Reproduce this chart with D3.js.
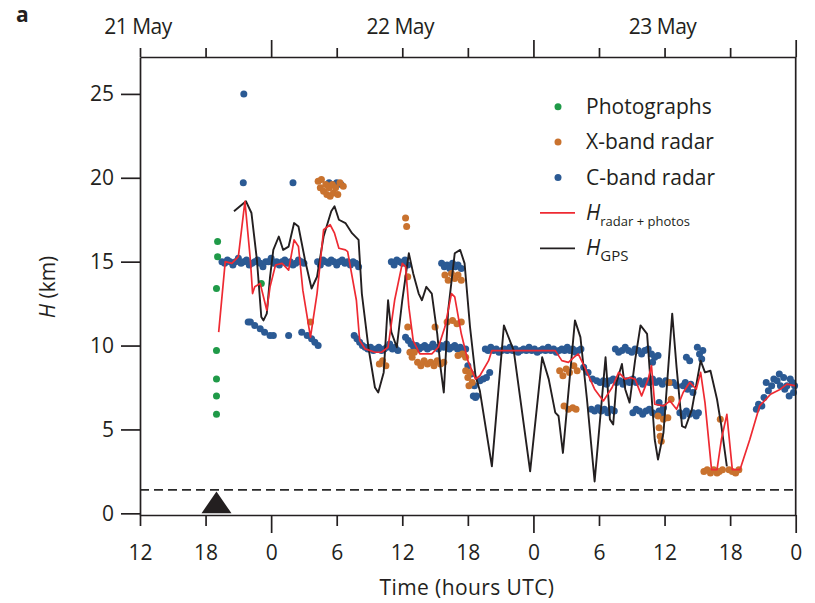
<!DOCTYPE html>
<html>
<head>
<meta charset="utf-8">
<script src="https://cdn.jsdelivr.net/npm/d3@7"></script>
<style>
body { margin: 0; background: #fff; }
text { font-family: "Open Sans", sans-serif; fill: #231f20; }
</style>
</head>
<body>
<svg id="chart" width="815" height="603"></svg>
<script>
// time is hours since 21 May 00:00 UTC, heights in km
var hourTicks = [12, 18, 24, 30, 36, 42, 48, 54, 60, 66, 72];
var dayLabels = [{t: 12, label: '21 May'}, {t: 36, label: '22 May'}, {t: 60, label: '23 May'}];
var heightTicks = [0, 5, 10, 15, 20, 25];
var eruptionTime = 19.0;
var ventHeight = 1.4;

var photographs = [
	[19.1, 16.2], [19.1, 15.3], [19.0, 13.4], [19.0, 9.7], [19.0, 8.0], [19.0, 7.0], [19.0, 5.9], [23.1, 13.7]
];

var xband = [
	[27.6, 11.4],
	[28.3, 19.8], [28.5, 19.4], [28.6, 19.9], [28.8, 19.2], [29.0, 19.6], [29.1, 19.0], [29.3, 19.4], [29.4, 18.9],
	[29.6, 19.6], [29.7, 19.1], [29.9, 19.4], [30.1, 19.0], [30.3, 19.7], [30.6, 19.5],
	[36.3, 17.6], [36.4, 17.1], [36.5, 14.1],
	[33.9, 8.9], [34.2, 9.1], [34.5, 8.8],
	[36.5, 11.1], [36.7, 9.6], [36.9, 9.3], [37.1, 9.6],
	[37.4, 9.0], [37.7, 8.8], [38.0, 9.1], [38.3, 8.9], [38.6, 9.0], [38.9, 8.8], [39.2, 9.1], [39.5, 8.9], [39.8, 9.0],
	[39.0, 11.1],
	[39.9, 14.2], [40.2, 13.9], [40.5, 14.3], [40.8, 14.0], [41.1, 14.2], [41.4, 13.9],
	[40.1, 11.4], [40.6, 11.5], [41.0, 11.3], [41.4, 11.4],
	[41.1, 9.4], [41.5, 9.5], [41.8, 9.3],
	[41.8, 8.5], [42.0, 8.1], [42.2, 8.4], [42.4, 7.8], [42.1, 7.6],
	[50.4, 8.5], [50.7, 8.2], [51.0, 8.6], [51.3, 8.4], [51.7, 8.8], [52.0, 8.5],
	[50.8, 6.4], [51.2, 6.2], [51.6, 6.3], [51.9, 6.2],
	[59.4, 5.8], [59.5, 5.1], [59.6, 4.6], [59.7, 4.3], [59.9, 5.6], [60.3, 5.7],
	[60.4, 7.8], [60.6, 6.8],
	[65.1, 5.6],
	[63.6, 2.5], [63.9, 2.6], [64.2, 2.4], [64.5, 2.6], [64.8, 2.4], [65.0, 2.5], [65.3, 2.6],
	[65.9, 2.6], [66.2, 2.5], [66.5, 2.4], [66.8, 2.6]
];

var cband = [
	[21.5, 25.0], [21.45, 19.7], [26.0, 19.7], [29.3, 19.7], [29.7, 19.6], [30.0, 19.7], [30.4, 19.6],
	// 15 km plateau
	[19.5, 15.0], [19.75, 14.9], [20.0, 15.1], [20.25, 15.0], [20.5, 14.8], [20.75, 15.0], [21.0, 15.2], [21.25, 14.9],
	[21.5, 15.0], [21.75, 15.1], [22.0, 14.8], [22.25, 14.9], [22.5, 15.0], [22.75, 15.1], [23.0, 14.9], [23.25, 14.7],
	[23.5, 15.0], [23.75, 15.0], [24.0, 15.2], [24.25, 14.9], [24.5, 15.0], [24.75, 14.8], [25.0, 15.0], [25.25, 15.1],
	[25.5, 14.9], [25.75, 15.0], [26.0, 14.8], [26.25, 14.9], [26.5, 15.1], [26.75, 15.0], [27.0, 14.9],
	[28.25, 15.0], [28.5, 14.8], [28.75, 15.1], [29.0, 15.0], [29.25, 14.9], [29.5, 15.1], [29.75, 15.0], [30.0, 14.8],
	[30.25, 15.0], [30.5, 15.1], [30.75, 14.9], [31.0, 15.0], [31.25, 14.8], [31.5, 15.0], [31.75, 14.9], [32.0, 14.7],
	[35.0, 15.0], [35.25, 14.8], [35.5, 15.1], [35.75, 15.0], [36.0, 14.9], [36.25, 15.1], [36.5, 14.8],
	[39.6, 14.9], [39.85, 14.7], [40.1, 14.8], [40.35, 14.6], [40.6, 14.9], [40.85, 14.7], [41.1, 14.8], [41.4, 14.6],
	// lower branch after the first pulse
	[21.9, 11.4], [22.1, 11.4], [22.5, 11.2], [23.0, 11.0], [23.4, 10.8], [23.9, 10.6], [24.2, 10.6], [25.6, 10.6],
	[26.8, 10.8], [27.3, 10.6], [27.7, 10.4], [28.0, 10.2], [28.3, 10.0],
	// 10 km level
	[31.6, 10.6], [31.85, 10.4], [32.1, 10.2], [32.35, 10.0], [32.6, 9.9], [32.85, 9.8], [33.1, 9.9], [33.35, 9.7],
	[33.6, 9.8], [33.85, 9.9], [34.1, 9.7], [34.35, 9.8], [34.6, 9.9], [34.85, 10.1], [35.1, 9.8], [35.35, 9.9], [35.6, 9.7],
	[36.3, 10.5], [36.55, 10.3], [36.8, 10.1], [37.05, 9.9], [37.3, 10.0], [37.55, 9.8], [37.8, 9.9], [38.05, 10.0],
	[38.3, 9.8], [38.55, 9.9], [38.8, 10.1], [39.05, 9.9], [39.3, 9.8], [39.55, 10.0], [39.8, 9.9], [40.05, 10.1],
	[40.3, 9.8], [40.55, 9.9], [40.8, 10.0], [41.05, 9.8], [41.3, 9.9], [41.55, 9.7], [41.8, 9.8],
	[42.0, 8.8], [42.3, 8.3], [42.5, 7.0], [42.6, 7.6], [42.7, 6.9], [42.8, 7.0], [43.1, 7.9], [43.4, 8.0], [43.7, 8.1], [44.0, 8.4],
	[43.6, 9.8], [43.85, 9.7], [44.1, 9.9], [44.35, 9.7], [44.6, 9.8], [44.85, 9.6], [45.1, 9.7], [45.35, 9.8],
	[45.6, 9.7], [45.85, 9.9], [46.1, 9.7], [46.35, 9.8], [46.6, 9.6], [46.85, 9.7], [47.1, 9.8], [47.35, 9.7],
	[47.6, 9.9], [47.85, 9.7], [48.1, 9.8], [48.35, 9.6], [48.6, 9.7], [48.85, 9.8], [49.1, 9.7], [49.35, 9.9],
	[49.6, 9.7], [49.85, 9.8], [50.1, 9.6], [50.35, 9.7], [50.6, 9.8], [50.85, 9.7], [51.1, 9.9], [51.35, 9.7],
	[51.6, 9.8], [51.85, 9.6], [52.1, 9.7], [52.35, 9.8],
	// step down on 23 May
	[52.6, 8.7], [53.0, 8.4], [53.4, 8.0], [53.8, 7.9],
	[54.1, 7.8], [54.4, 7.9], [54.7, 7.7], [55.0, 7.9], [55.3, 8.0], [55.6, 7.8], [55.9, 7.9], [56.2, 7.7],
	[56.5, 7.9], [56.8, 7.8], [57.1, 8.0], [57.4, 7.8], [57.7, 7.9], [58.0, 7.7], [58.3, 7.9], [58.6, 7.8],
	[58.9, 8.0], [59.2, 7.8], [59.5, 7.9], [59.8, 7.7], [60.1, 7.9], [60.4, 7.8], [60.8, 7.8], [61.1, 7.6],
	[53.3, 6.2], [53.6, 6.1], [53.9, 6.3], [54.2, 6.1], [54.5, 6.2], [54.8, 6.0], [55.1, 6.2], [55.4, 6.1],
	[55.5, 9.8], [55.8, 9.6], [56.1, 9.7], [56.4, 9.9], [56.7, 9.7], [57.0, 9.6], [57.3, 9.8], [57.6, 9.7],
	[57.9, 9.5], [58.2, 9.7], [58.5, 9.8], [58.8, 9.5], [59.1, 9.3], [59.4, 9.4], [58.9, 9.0],
	[57.1, 6.0], [57.4, 6.2], [57.7, 6.1], [58.0, 5.9], [58.3, 6.1], [58.6, 6.2], [58.9, 6.0], [59.2, 5.9],
	[59.5, 6.1], [59.8, 5.9], [59.5, 6.6], [59.9, 6.3],
	[61.7, 7.6], [61.9, 7.8], [62.1, 7.4], [62.4, 7.7], [62.6, 7.2],
	[62.0, 9.3], [62.3, 9.1], [63.0, 9.9], [63.2, 9.5], [63.4, 9.2], [63.5, 9.7],
	[61.4, 6.0], [61.7, 5.8], [62.0, 6.1], [62.3, 5.9], [62.6, 6.0], [62.9, 5.8], [63.1, 6.0],
	// recovery toward 24 May
	[68.4, 6.2], [68.6, 6.5], [68.9, 6.4], [69.1, 6.9], [69.3, 7.8], [69.5, 7.3], [69.8, 7.6], [70.0, 8.0],
	[70.3, 7.9], [70.5, 8.3], [70.6, 7.6], [70.9, 8.1], [71.0, 7.4], [71.2, 7.6], [71.4, 7.0], [71.5, 8.0],
	[71.7, 7.8], [71.8, 7.2], [71.9, 7.6]
];

var hRadarPhotos = [
	[19.2, 10.8], [19.8, 15.0], [20.4, 14.9], [21.0, 15.3], [21.6, 18.6], [22.1, 15.1], [22.3, 13.1], [22.5, 13.5],
	[23.0, 13.7], [23.6, 12.1], [23.9, 13.5], [24.4, 14.8], [25.0, 14.9], [25.6, 14.5], [26.1, 16.3], [26.5, 15.9],
	[26.9, 13.3], [27.6, 10.5], [28.2, 13.1], [28.8, 16.9], [29.4, 17.2], [29.8, 16.7], [30.2, 15.8], [30.8, 15.7],
	[31.0, 15.6], [31.8, 12.7], [32.1, 10.3], [32.6, 9.8], [33.5, 9.6], [34.1, 9.6], [34.7, 9.9], [35.3, 12.7],
	[36.0, 14.9], [36.3, 14.7], [36.6, 12.3], [37.0, 10.3], [37.6, 9.5], [38.7, 9.5], [39.3, 9.9], [39.9, 11.1],
	[40.5, 13.1], [40.8, 12.9], [41.4, 10.7], [42.0, 9.1], [42.7, 8.0], [43.1, 8.2], [43.9, 9.1], [44.2, 9.7],
	[45.1, 9.7], [50.0, 9.7], [50.6, 9.1], [51.2, 9.0], [51.7, 9.3], [52.1, 9.5], [52.7, 8.7], [53.6, 7.4],
	[54.4, 6.7], [55.2, 7.5], [55.8, 8.4], [56.4, 8.0], [56.8, 8.1], [57.3, 8.0], [57.9, 7.0], [58.5, 8.0],
	[58.8, 8.8], [59.1, 6.5], [59.9, 6.4], [60.5, 6.7], [61.1, 6.2], [61.7, 7.2], [62.3, 7.8], [62.9, 7.4],
	[63.3, 8.4], [63.7, 6.6], [64.3, 2.6], [64.8, 2.6], [65.2, 4.4], [65.7, 5.9], [66.2, 2.6], [66.9, 2.6],
	[67.8, 4.4], [68.7, 6.4], [69.7, 7.1], [70.6, 7.4], [71.2, 7.7], [72.0, 7.6]
];

var hGps = [
	[20.6, 18.0], [21.7, 18.6], [22.2, 17.9], [22.7, 15.1], [23.1, 11.7], [23.3, 11.5], [23.6, 11.9], [23.9, 14.1],
	[24.2, 15.7], [24.7, 16.5], [25.1, 15.7], [25.6, 15.9], [26.1, 17.3], [26.5, 17.1], [27.1, 15.1], [27.7, 13.4],
	[28.2, 14.1], [28.8, 16.5], [29.5, 18.0], [29.8, 18.3], [30.2, 17.5], [30.8, 17.3], [31.4, 16.7], [32.0, 16.3],
	[32.3, 13.1], [32.9, 9.9], [33.5, 7.5], [33.8, 7.2], [34.3, 8.4], [34.7, 12.7], [35.0, 10.8], [35.5, 9.9],
	[36.0, 12.7], [36.6, 15.5], [37.0, 14.3], [37.5, 13.1], [37.8, 12.7], [38.2, 13.5], [38.7, 13.1], [39.2, 10.7],
	[39.5, 8.7], [39.8, 7.2], [40.2, 12.1], [40.8, 15.5], [41.3, 15.7], [41.7, 14.9], [42.2, 11.1], [42.7, 8.2],
	[43.1, 7.3], [44.2, 2.8], [45.3, 11.2], [46.2, 9.7], [47.7, 2.5], [48.8, 9.3], [49.4, 8.0], [50.0, 6.0],
	[50.3, 5.8], [50.7, 3.6], [51.8, 11.5], [52.3, 10.5], [52.9, 6.8], [53.6, 1.9], [54.6, 9.3], [55.0, 5.6],
	[55.3, 5.3], [55.6, 7.8], [56.1, 8.9], [56.4, 7.4], [56.8, 6.6], [57.3, 9.1], [57.8, 11.2], [58.4, 10.7],
	[59.1, 4.4], [59.4, 3.2], [59.9, 4.8], [60.7, 11.9], [61.1, 8.7], [61.6, 5.2], [61.9, 5.1], [62.5, 6.2],
	[63.3, 9.1], [63.7, 8.4], [64.2, 8.5], [64.8, 6.8], [65.2, 5.2], [65.7, 2.8]
];

var colors = {photo: '#1f9a48', xband: '#c9722e', cband: '#2b5a94', radar: '#ee2a32', gps: '#231f20'};

var svg = d3.select('#chart');
var x = d3.scaleLinear().domain([12, 72]).range([140, 795.7]);
var y = d3.scaleLinear().domain([-0.1, 27.2]).range([515, 57]);
var ink = '#231f20';

function drawPoints(data, color) {
	svg.append('g').selectAll('circle').data(data).enter().append('circle')
		.attr('cx', function(d) { return x(d[0]); })
		.attr('cy', function(d) { return y(d[1]); })
		.attr('r', 3.5)
		.attr('fill', color);
}

drawPoints(cband, colors.cband);
drawPoints(xband, colors.xband);
drawPoints(photographs, colors.photo);

var line = d3.line().x(function(d) { return x(d[0]); }).y(function(d) { return y(d[1]); });
svg.append('path').datum(hGps).attr('d', line)
	.attr('fill', 'none').attr('stroke', colors.gps).attr('stroke-width', 1.9).attr('stroke-linejoin', 'round');
svg.append('path').datum(hRadarPhotos).attr('d', line)
	.attr('fill', 'none').attr('stroke', colors.radar).attr('stroke-width', 1.7).attr('stroke-linejoin', 'round');

// vent altitude and eruption onset
svg.append('line')
	.attr('x1', x(12)).attr('x2', x(72)).attr('y1', y(ventHeight)).attr('y2', y(ventHeight))
	.attr('stroke', '#2a2a2a').attr('stroke-width', 1.7).attr('stroke-dasharray', '9,5');
svg.append('path')
	.attr('d', 'M' + (x(eruptionTime) - 15) + ',' + y(0) + 'L' + x(eruptionTime) + ',' + y(1.3) +
		'L' + (x(eruptionTime) + 15) + ',' + y(0) + 'Z')
	.attr('fill', ink);

// axes
function styleAxis(g) {
	g.select('.domain').attr('stroke', ink).attr('stroke-width', 1.7);
	g.selectAll('.tick line').attr('stroke', ink).attr('stroke-width', 1.7);
	g.selectAll('.tick text').attr('font-size', 21).attr('fill', ink);
}

var yAxis = svg.append('g').attr('transform', 'translate(' + x(12) + ',0)')
	.call(d3.axisLeft(y).tickValues(heightTicks).tickSize(19).tickSizeOuter(0).tickPadding(7));
styleAxis(yAxis);

var xAxis = svg.append('g').attr('transform', 'translate(0,' + y.range()[0] + ')')
	.call(d3.axisBottom(x).tickValues(hourTicks).tickSize(11).tickSizeOuter(0)
		.tickFormat(function(d) { return d % 24; }));
styleAxis(xAxis);
xAxis.selectAll('.tick line').filter(function(d) { return d % 24 === 0; }).attr('y2', 18);
xAxis.selectAll('.tick text').attr('y', 45).attr('dy', 0);

var topAxis = svg.append('g').attr('transform', 'translate(0,' + y.range()[1] + ')')
	.call(d3.axisTop(x).tickValues(hourTicks).tickSize(9).tickSizeOuter(0).tickFormat(''));
styleAxis(topAxis);
topAxis.selectAll('.tick line').filter(function(d) { return d % 24 === 0; }).attr('y2', -17);

svg.append('line')
	.attr('x1', x(72)).attr('x2', x(72)).attr('y1', y.range()[1]).attr('y2', y.range()[0])
	.attr('stroke', ink).attr('stroke-width', 1.7);

svg.append('g').selectAll('text').data(dayLabels).enter().append('text')
	.attr('x', function(d) { return x(d.t) - 2; })
	.attr('y', 34)
	.attr('text-anchor', 'middle')
	.attr('font-size', 21)
	.attr('letter-spacing', -0.5)
	.text(function(d) { return d.label; });

svg.append('text')
	.attr('x', 467).attr('y', 595)
	.attr('text-anchor', 'middle')
	.attr('font-size', 21)
	.attr('letter-spacing', 0.4)
	.text('Time (hours UTC)');

var yTitle = svg.append('text')
	.attr('transform', 'translate(55,287) rotate(-90)')
	.attr('text-anchor', 'middle')
	.attr('font-size', 21);
yTitle.append('tspan').attr('font-style', 'italic').text('H');
yTitle.append('tspan').text(' (km)');

svg.append('text')
	.attr('x', 16).attr('y', 22)
	.attr('font-size', 21).attr('font-weight', 'bold')
	.text('a');

// legend
var legend = svg.append('g');
var legendRows = [
	{type: 'dot', color: colors.photo, label: 'Photographs'},
	{type: 'dot', color: colors.xband, label: 'X-band radar'},
	{type: 'dot', color: colors.cband, label: 'C-band radar'},
	{type: 'line', color: colors.radar, sub: 'radar + photos'},
	{type: 'line', color: colors.gps, sub: 'GPS'}
];
legendRows.forEach(function(row, i) {
	var cy = 106.7 + i * 35.4;
	if (row.type === 'dot') {
		legend.append('circle').attr('cx', 558).attr('cy', cy).attr('r', 3.5).attr('fill', row.color);
		legend.append('text').attr('x', 586).attr('y', cy + 7).attr('font-size', 21).text(row.label);
	} else {
		legend.append('line').attr('x1', 540).attr('x2', 575).attr('y1', cy).attr('y2', cy)
			.attr('stroke', row.color).attr('stroke-width', 1.8);
		var t = legend.append('text').attr('x', 586).attr('y', cy + 7).attr('font-size', 21);
		t.append('tspan').attr('font-style', 'italic').text('H');
		t.append('tspan').attr('font-size', row.sub === 'GPS' ? 15 : 13).attr('dy', 6).text(row.sub);
	}
});
</script>
</body>
</html>
